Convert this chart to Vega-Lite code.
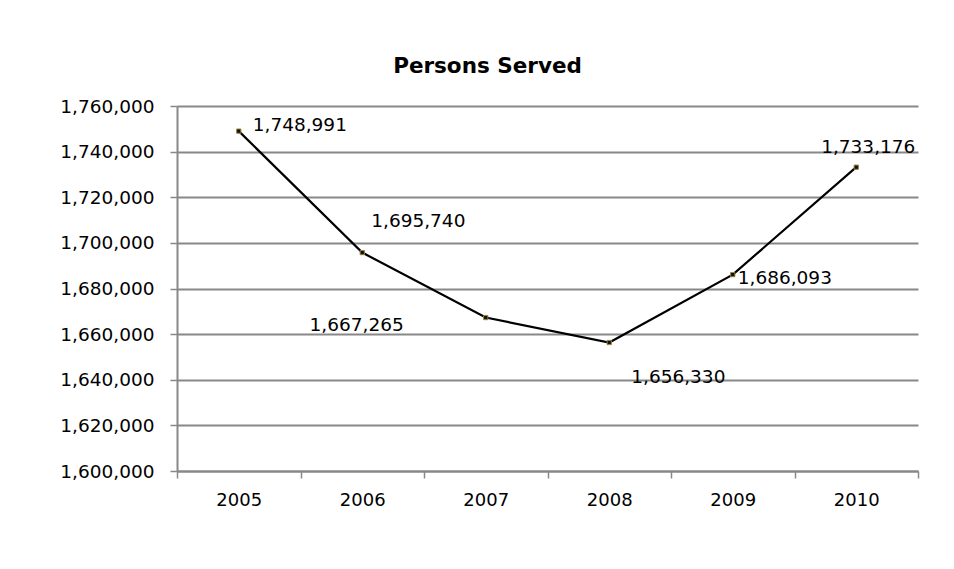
{
  "$schema": "https://vega.github.io/schema/vega-lite/v6.json",
  "autosize": {"type": "none"},
  "padding": {"left": 177, "top": 106, "right": 36, "bottom": 98},
  "width": 741,
  "height": 365,
  "background": "white",
  "config": {"view": {"stroke": null}, "font": "DejaVu Sans"},
  "title": {"text": "Persons Served", "fontSize": 21.5, "fontWeight": "bold", "font": "DejaVu Sans", "color": "#000", "anchor": "middle", "dx": -60, "offset": 20},
  "data": {"values": [
    {"year": "2005", "persons": 1748991},
    {"year": "2006", "persons": 1695740},
    {"year": "2007", "persons": 1667265},
    {"year": "2008", "persons": 1656330},
    {"year": "2009", "persons": 1686093},
    {"year": "2010", "persons": 1733176}
  ]},
  "encoding": {
    "x": {"field": "year", "type": "ordinal", "scale": {"paddingInner": 0, "paddingOuter": 0},
      "axis": {"title": null, "labelAngle": 0, "labelFontSize": 18, "labelColor": "#000", "labelPadding": 13, "domainColor": "#888", "domainWidth": 2, "tickColor": "#888", "tickWidth": 1.5, "tickSize": 7, "tickBand": "extent", "grid": false}},
    "y": {"field": "persons", "type": "quantitative", "scale": {"domain": [1600000, 1760000], "nice": false, "zero": false},
      "axis": {"title": null, "values": [1600000, 1620000, 1640000, 1660000, 1680000, 1700000, 1720000, 1740000, 1760000], "format": ",d", "labelFontSize": 18.5, "labelColor": "#000", "labelPadding": 16, "domainColor": "#888", "domainWidth": 2, "tickColor": "#888", "tickWidth": 1.5, "tickSize": 7, "grid": true, "gridColor": "#888", "gridWidth": 2}}
  },
  "layer": [
    {"mark": {"type": "line", "color": "#000", "strokeWidth": 2.2}},
    {"mark": {"type": "point", "filled": true, "color": "#111", "stroke": "#9a8440", "strokeWidth": 1, "size": 18, "shape": "square", "opacity": 1}},
    {"transform": [{"filter": "datum.year == '2005'"}],
     "mark": {"type": "text", "align": "left", "baseline": "middle", "dx": 14, "dy": -6, "fontSize": 18.5, "color": "#000"},
     "encoding": {"text": {"field": "persons", "format": ",d"}}},
    {"transform": [{"filter": "datum.year == '2006'"}],
     "mark": {"type": "text", "align": "left", "baseline": "middle", "dx": 9, "dy": -32, "fontSize": 18.5, "color": "#000"},
     "encoding": {"text": {"field": "persons", "format": ",d"}}},
    {"transform": [{"filter": "datum.year == '2007'"}],
     "mark": {"type": "text", "align": "right", "baseline": "middle", "dx": -82, "dy": 7, "fontSize": 18.5, "color": "#000"},
     "encoding": {"text": {"field": "persons", "format": ",d"}}},
    {"transform": [{"filter": "datum.year == '2008'"}],
     "mark": {"type": "text", "align": "left", "baseline": "middle", "dx": 22, "dy": 35, "fontSize": 18.5, "color": "#000"},
     "encoding": {"text": {"field": "persons", "format": ",d"}}},
    {"transform": [{"filter": "datum.year == '2009'"}],
     "mark": {"type": "text", "align": "left", "baseline": "middle", "dx": 5, "dy": 3, "fontSize": 18.5, "color": "#000"},
     "encoding": {"text": {"field": "persons", "format": ",d"}}},
    {"transform": [{"filter": "datum.year == '2010'"}],
     "mark": {"type": "text", "align": "center", "baseline": "middle", "dx": 12, "dy": -20, "fontSize": 18.5, "color": "#000"},
     "encoding": {"text": {"field": "persons", "format": ",d"}}}
  ]
}
